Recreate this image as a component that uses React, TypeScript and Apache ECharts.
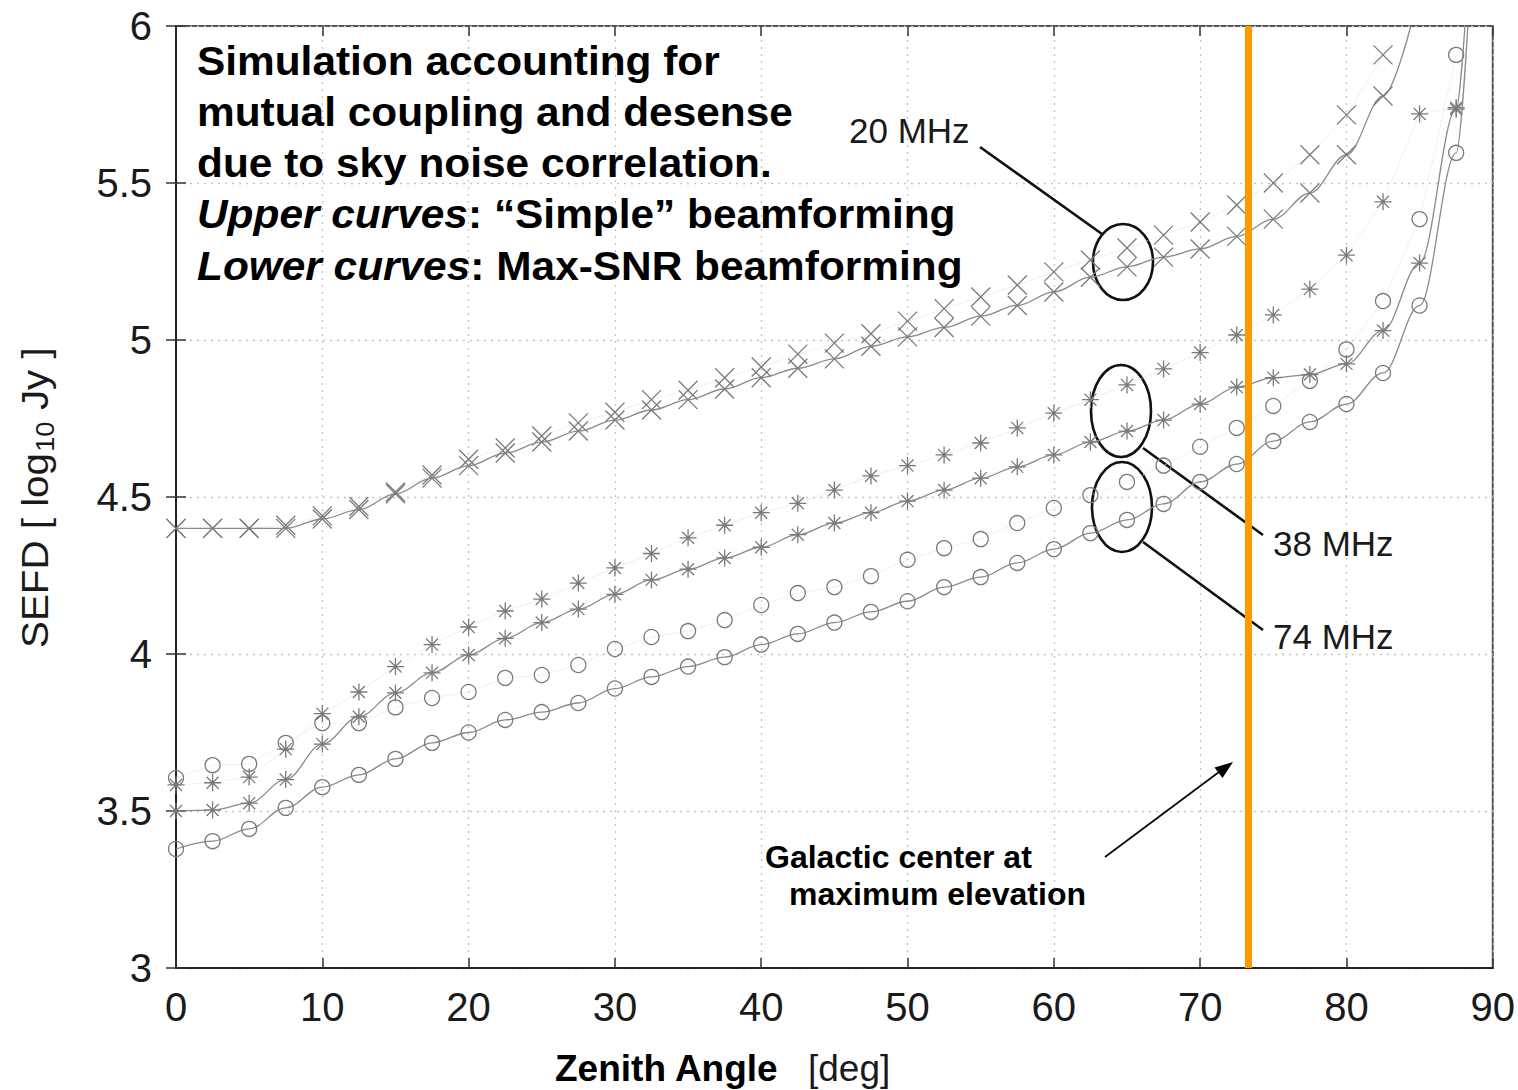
import React, { useEffect, useRef } from "react";
import * as echarts from "echarts";

// Zenith angles (deg) of the simulated points
const zenith = [
  0, 2.5, 5, 7.5, 10, 12.5, 15, 17.5, 20, 22.5, 25, 27.5, 30, 32.5, 35, 37.5, 40, 42.5,
  45, 47.5, 50, 52.5, 55, 57.5, 60, 62.5, 65, 67.5, 70, 72.5, 75, 77.5, 80, 82.5, 85, 87.5,
];

// 20 MHz
const lower20 = [
  4.4, 4.4, 4.4, 4.4, 4.43, 4.46, 4.51, 4.56, 4.6, 4.64, 4.675, 4.71, 4.745, 4.777, 4.81, 4.844,
  4.88, 4.91, 4.94, 4.98, 5.01, 5.04, 5.076, 5.11, 5.153, 5.2, 5.233, 5.264, 5.29, 5.33, 5.385,
  5.468, 5.59, 5.777,
];
const upper20 = [
  4.4, 4.4, 4.4, 4.41, 4.44, 4.47, 4.516, 4.57, 4.62, 4.656, 4.694, 4.736, 4.77, 4.81, 4.84, 4.88,
  4.914, 4.955, 4.99, 5.02, 5.06, 5.1, 5.137, 5.175, 5.217, 5.255, 5.293, 5.334, 5.376, 5.43, 5.5,
  5.59, 5.717, 5.908,
];
// 38 MHz
const lower38 = [
  3.5, 3.503, 3.525, 3.6, 3.713, 3.8, 3.876, 3.94, 3.997, 4.05, 4.1, 4.143, 4.19, 4.236, 4.27,
  4.306, 4.34, 4.38, 4.417, 4.45, 4.487, 4.522, 4.56, 4.596, 4.634, 4.675, 4.71, 4.745, 4.796,
  4.85, 4.88, 4.89, 4.924, 5.03, 5.245, 5.735,
];
const upper38 = [
  3.583, 3.59, 3.608, 3.697, 3.81, 3.879, 3.96, 4.03, 4.086, 4.137, 4.175, 4.226, 4.274, 4.32,
  4.37, 4.41, 4.45, 4.48, 4.522, 4.567, 4.6, 4.634, 4.672, 4.72, 4.767, 4.81, 4.857, 4.908, 4.96,
  5.016, 5.08, 5.162, 5.27, 5.44, 5.72, 5.74,
];
// 74 MHz
const lower74 = [
  3.379, 3.404, 3.443, 3.51, 3.576, 3.615, 3.666, 3.717, 3.75, 3.79, 3.815, 3.844, 3.89, 3.927,
  3.96, 3.99, 4.03, 4.064, 4.1, 4.134, 4.168, 4.213, 4.245, 4.29, 4.334, 4.385, 4.427, 4.478,
  4.548, 4.605, 4.678, 4.739, 4.796, 4.895, 5.11, 5.596,
];
const upper74 = [
  3.605, 3.646, 3.65, 3.717, 3.78, 3.78, 3.83, 3.86, 3.879, 3.924, 3.933, 3.965, 4.016, 4.054,
  4.073, 4.108, 4.156, 4.194, 4.213, 4.248, 4.3, 4.337, 4.366, 4.417, 4.465, 4.506, 4.548, 4.6,
  4.66, 4.72, 4.79, 4.87, 4.97, 5.124, 5.385, 5.908,
];
// Points where the solid curves leave the top of the frame
const exit20 = [84.4, 6];
const exit38 = [88.1, 6];
const exit74 = [88.3, 6];

const galacticCenterZenith = 73.3;

const xMin = 0, xMax = 90, xStep = 10;
const yMin = 3, yMax = 6, yStep = 0.5;

const FONT = "'Liberation Sans', Arial, Helvetica, sans-serif";
const SYM_X = "path://M0,0L10,10M10,0L0,10";
const SYM_STAR = "path://M1.46,1.46L8.54,8.54M8.54,1.46L1.46,8.54M5,0L5,10M0,5L10,5";
const MARK = "#7a7a7a";

function pts(vals: number[], exit?: number[]) {
  const d: any[] = vals.map((v, i) => [zenith[i], v]);
  if (exit) d.push({ value: exit, symbol: "none" });
  return d;
}

function makeSeries(name: string, data: any[], symbol: string, size: number, solid: boolean) {
  return {
    name,
    type: "line",
    data,
    symbol,
    symbolSize: size,
    smooth: solid ? 0.35 : false,
    smoothMonotone: "x",
    clip: true,
    z: solid ? 3 : 2,
    itemStyle: {
      color: symbol === "circle" ? "rgba(0,0,0,0)" : MARK,
      borderColor: MARK,
      borderWidth: 1.3,
    },
    lineStyle: solid
      ? { color: "#8a8a8a", width: 1.3, type: "solid" }
      : { color: "#e2e2e2", width: 1, type: "dotted" },
    emphasis: { disabled: true },
    silent: true,
  };
}

export default function App() {
  const ref = useRef<HTMLDivElement>(null);
  useEffect(() => {
    if (!ref.current) return;
    const chart = echarts.init(ref.current, undefined, { renderer: "svg" });

    const labelStyle = { color: "#1a1a1a", fontSize: 40, fontFamily: FONT };
    const bold = { fontFamily: FONT, fontSize: 40, fontWeight: "bold", fill: "#000" };
    const richBI = {
      i: { fontFamily: FONT, fontSize: 40, fontWeight: "bold", fontStyle: "italic", fill: "#000" },
      b: { fontFamily: FONT, fontSize: 40, fontWeight: "bold", fill: "#000" },
    };

    const textLines = [
      "Simulation accounting for",
      "mutual coupling and desense",
      "due to sky noise correlation.",
    ];
    const lineY = [61, 112, 163, 214, 266];
    const sx = 1.06;

    const graphic: any[] = [];
    textLines.forEach((t, i) => {
      graphic.push({
        type: "text", x: 197, y: lineY[i], scaleX: sx, z: 20,
        style: { text: t, ...bold, verticalAlign: "middle", align: "left" },
      });
    });
    graphic.push({
      type: "text", x: 197, y: lineY[3], scaleX: sx, z: 20,
      style: { text: "{i|Upper curves}{b|: “Simple” beamforming}", verticalAlign: "middle", align: "left", rich: richBI },
    });
    graphic.push({
      type: "text", x: 197, y: lineY[4], scaleX: sx, z: 20,
      style: { text: "{i|Lower curves}{b|: Max-SNR beamforming}", verticalAlign: "middle", align: "left", rich: richBI },
    });

    // Frequency labels
    const reg = { fontFamily: FONT, fontSize: 35, fill: "#1a1a1a" };
    graphic.push({ type: "text", x: 849, y: 130, z: 20, style: { text: "20 MHz", ...reg, verticalAlign: "middle" } });
    graphic.push({ type: "text", x: 1273, y: 543, z: 20, style: { text: "38 MHz", ...reg, verticalAlign: "middle" } });
    graphic.push({ type: "text", x: 1273, y: 636, z: 20, style: { text: "74 MHz", ...reg, verticalAlign: "middle" } });

    // Ellipses and leader lines
    const ann = { stroke: "#111", lineWidth: 2.6, fill: "none" };
    graphic.push({ type: "ellipse", z: 1, shape: { cx: 1123, cy: 262, rx: 30, ry: 38 }, style: ann });
    graphic.push({ type: "ellipse", z: 1, shape: { cx: 1121, cy: 411, rx: 30, ry: 46 }, style: ann });
    graphic.push({ type: "ellipse", z: 1, shape: { cx: 1122, cy: 507, rx: 30, ry: 45 }, style: ann });
    graphic.push({ type: "line", z: 1, shape: { x1: 980, y1: 147, x2: 1102, y2: 234 }, style: { stroke: "#111", lineWidth: 2.6 } });
    graphic.push({ type: "line", z: 1, shape: { x1: 1143, y1: 448, x2: 1263, y2: 535 }, style: { stroke: "#111", lineWidth: 2.6 } });
    graphic.push({ type: "line", z: 1, shape: { x1: 1143, y1: 542, x2: 1263, y2: 630 }, style: { stroke: "#111", lineWidth: 2.6 } });

    // Galactic center annotation
    const gc = { fontFamily: FONT, fontSize: 32, fontWeight: "bold", fill: "#000", verticalAlign: "middle" };
    graphic.push({ type: "text", x: 765, y: 857, z: 20, style: { text: "Galactic center at", ...gc } });
    graphic.push({ type: "text", x: 789, y: 894, z: 20, style: { text: "maximum elevation", ...gc } });
    graphic.push({ type: "line", z: 20, shape: { x1: 1105, y1: 857, x2: 1219, y2: 772 }, style: { stroke: "#000", lineWidth: 1.6 } });
    graphic.push({
      type: "polygon", z: 20,
      shape: { points: [[1233, 762], [1222.5, 778], [1214.5, 767.5]] },
      style: { fill: "#000" },
    });

    // Axis titles
    graphic.push({
      type: "text", x: 555, y: 1068, z: 20,
      style: { text: "Zenith Angle", fontFamily: FONT, fontSize: 37, fontWeight: "bold", fill: "#000", verticalAlign: "middle" },
    });
    graphic.push({
      type: "text", x: 808, y: 1068, z: 20,
      style: { text: "[deg]", fontFamily: FONT, fontSize: 37, fill: "#1a1a1a", verticalAlign: "middle" },
    });
    const yt = { fontFamily: FONT, fill: "#1a1a1a", verticalAlign: "middle", align: "left" };
    graphic.push({
      type: "group", x: 35, y: 648, rotation: Math.PI / 2, scaleX: 1.09, z: 20,
      children: [
        { type: "text", x: 0, y: 0, style: { text: "SEFD [ log", fontSize: 37, ...yt } },
        { type: "text", x: 180, y: 10, style: { text: "10", fontSize: 25, ...yt } },
        { type: "text", x: 208, y: 0, style: { text: " Jy ]", fontSize: 37, ...yt } },
      ],
    });

    const splitLine = { show: true, lineStyle: { color: "#c4c4c4", type: [2, 5], width: 1.3 } };
    const tick = { show: true, inside: true, length: 10, lineStyle: { color: "#333", width: 1.5 } };

    const option: any = {
      animation: false,
      backgroundColor: "#fff",
      grid: { left: 176, top: 26, width: 1318, height: 942, show: true, borderColor: "#555", borderWidth: 2, backgroundColor: "transparent" },
      xAxis: [
        {
          type: "value", min: xMin, max: xMax, interval: xStep, position: "bottom",
          axisLine: { show: true, lineStyle: { color: "#222", width: 2 } },
          axisTick: tick, splitLine,
          axisLabel: { ...labelStyle, margin: 19 },
        },
        {
          type: "value", min: xMin, max: xMax, interval: xStep, position: "top",
          axisLine: { show: false }, axisTick: tick, splitLine: { show: false }, axisLabel: { show: false },
        },
      ],
      yAxis: [
        {
          type: "value", min: yMin, max: yMax, interval: yStep, position: "left",
          axisLine: { show: true, lineStyle: { color: "#222", width: 2 } },
          axisTick: tick, splitLine,
          axisLabel: { ...labelStyle, margin: 24 },
        },
        {
          type: "value", min: yMin, max: yMax, interval: yStep, position: "right",
          axisLine: { show: false }, axisTick: tick, splitLine: { show: false }, axisLabel: { show: false },
        },
      ],
      series: [
        makeSeries("20 MHz simple", pts(upper20), SYM_X, 19, false),
        makeSeries("38 MHz simple", pts(upper38), SYM_STAR, 17, false),
        makeSeries("74 MHz simple", pts(upper74), "circle", 15, false),
        makeSeries("20 MHz max-SNR", pts(lower20, exit20), SYM_X, 19, true),
        makeSeries("38 MHz max-SNR", pts(lower38, exit38), SYM_STAR, 17, true),
        makeSeries("74 MHz max-SNR", pts(lower74, exit74), "circle", 15, true),
        {
          name: "Galactic center",
          type: "line",
          data: [],
          z: 6,
          silent: true,
          markLine: {
            silent: true,
            symbol: ["none", "none"],
            label: { show: false },
            lineStyle: { color: "#FF9900", width: 7, type: "solid" },
            emphasis: { disabled: true },
            data: [{ xAxis: galacticCenterZenith }],
          },
        },
      ],
      graphic,
    };
    chart.setOption(option);
    return () => chart.dispose();
  }, []);

  return (
    <div
      ref={ref}
      style={{ position: "fixed", left: 0, top: 0, width: 1518, height: 1090, background: "#fff" }}
    />
  );
}
